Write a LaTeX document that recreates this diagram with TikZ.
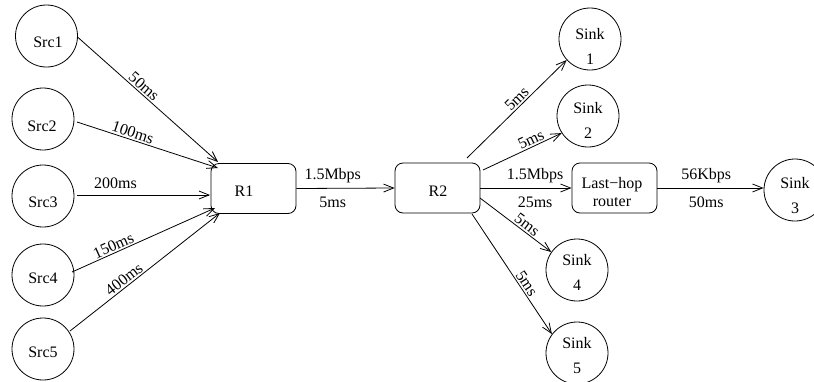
\documentclass[tikz,border=0pt]{standalone}
\usepackage{fontspec}
\setmainfont{Liberation Serif}
\usetikzlibrary{arrows.meta,calc}
\begin{document}
\begin{tikzpicture}[x=1pt,y=-1pt,
  every node/.style={font=\fontsize{16}{19}\selectfont},
  ball/.style={draw, circle, minimum size=62pt, inner sep=0pt, line width=0.8pt},
  rbox/.style={draw, rounded corners=8pt, minimum width=85pt, minimum height=50pt, inner sep=0pt, line width=0.8pt},
  txt/.style={inner sep=0pt, align=center},
  sinktxt/.style={inner sep=0pt, align=center, font=\fontsize{16}{25}\selectfont},
  lab/.style={inner sep=1pt, sloped, above=0.5pt},
  labup/.style={inner sep=1pt, above=4pt},
  labdn/.style={inner sep=1pt, below=7.5pt},
  arr/.style={draw, line width=0.8pt, -{Straight Barb[length=10pt,width=8pt]}},
]
\useasboundingbox (0,0) rectangle (814,381);

% sources
\node[ball] (s1) at (46.5,36) {};
\node[ball] (s2) at (43,119) {};
\node[ball] (s3) at (43,196) {};
\node[ball] (s4) at (43,275) {};
\node[ball] (s5) at (43,349) {};
\node[txt] (ts1) at ($(s1)+(1.5,6)$) {Src1};
\node[txt] (ts2) at ($(s2)+(-1,7)$) {Src2};
\node[txt] (ts3) at ($(s3)+(0,6)$) {Src3};
\node[txt] (ts4) at ($(s4)+(0,3)$) {Src4};
\node[txt] (ts5) at ($(s5)+(0,3)$) {Src5};

% routers
\node[rbox] (R1) at (253.5,188.5) {};
\node[txt] (tR1) at ($(R1)+(-9.5,3)$) {R1};
\node[rbox] (R2) at (437.5,188) {};
\node[txt] (tR2) at ($(R2)+(0.5,3)$) {R2};
\node[rbox] (LH) at (614.5,188) {};
\node[txt, font=\fontsize{16}{18}\selectfont] (tLH) at ($(LH)+(-2.5,3.7)$) {Last−hop\\router};

% sinks
\node[ball] (k1) at (590,39) {};
\node[ball] (k2) at (588,116) {};
\node[ball] (k3) at (795,190) {};
\node[ball] (k4) at (577,270) {};
\node[ball] (k5) at (577,353) {};
\node[sinktxt] (tk1) at ($(k1)+(0,7.5)$) {Sink\\1};
\node[sinktxt] (tk2) at ($(k2)+(0,4.5)$) {Sink\\2};
\node[sinktxt] (tk3) at ($(k3)+(0,5.5)$) {Sink\\3};
\node[sinktxt] (tk4) at ($(k4)+(0,2.5)$) {Sink\\4};
\node[sinktxt] (tk5) at ($(k5)+(0,3)$) {Sink\\5};

% source links
\draw[arr] ($(s1)+(31,1)$) -- node[lab,pos=0.44]{50ms} ($(R1)+(-35.5,-26.5)$);
\draw[arr] ($(s2)+(34,3)$) -- node[lab,pos=0.38]{100ms} ($(R1)+(-35.5,-20.5)$);
\draw[arr] ($(s3)+(34,-1)$) -- node[inner sep=1pt,above=5pt,pos=0.29]{200ms} ($(R1)+(-43.5,6.5)$);
\draw[arr] ($(s4)+(29,-3)$) -- node[lab,pos=0.31]{150ms} ($(R1)+(-38.5,19.5)$);
\draw[arr] ($(s5)+(27,-18)$) -- node[lab,pos=0.39]{400ms} ($(R1)+(-33.5,24.5)$);

% bottleneck
\draw[arr] (R1.east) -- node[labup,pos=0.37]{1.5Mbps} node[labdn,pos=0.37]{5ms} (R2.west);

% sink links
\draw[arr] ($(R2)+(29.5,-30)$) -- node[lab,pos=0.55]{5ms} (k1.222);
\draw[arr] ($(R2)+(45.5,-18)$) -- node[lab,pos=0.65]{5ms} (k2.213);
\draw[arr] (R2.east) -- node[labup,pos=0.6]{1.5Mbps} node[labdn,pos=0.6]{25ms} (LH.west);
\draw[arr] ($(R2)+(42.5,10)$) -- node[lab,pos=0.6]{5ms} (k4.145);
\draw[arr] ($(R2)+(34.5,26)$) -- node[lab,pos=0.61]{5ms} (k5.143);
\draw[arr] (LH.east) -- node[labup,pos=0.46]{56Kbps} node[labdn,pos=0.46]{50ms} (LH.east -| k3.west);
\end{tikzpicture}
\end{document}
